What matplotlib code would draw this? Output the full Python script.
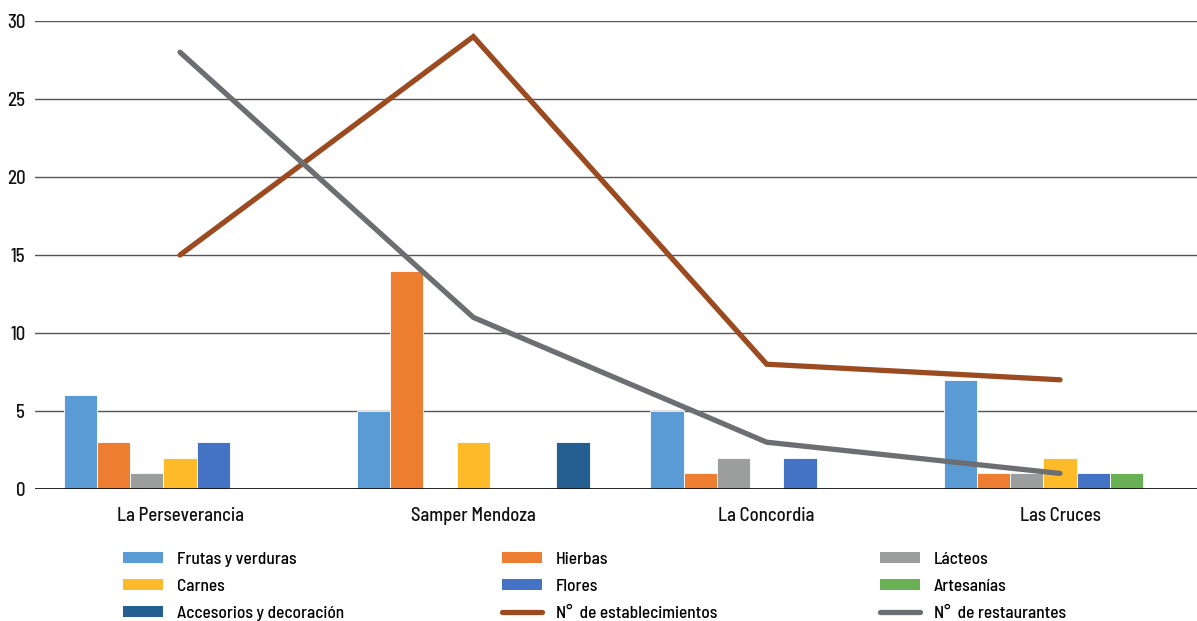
import matplotlib
matplotlib.use("Agg")
import matplotlib.pyplot as plt
from matplotlib.patches import Patch
from matplotlib.lines import Line2D
import numpy as np

plt.rcParams['font.family'] = ['Barlow Semi Condensed', 'Roboto Condensed',
                               'Fira Sans Condensed', 'DejaVu Sans']
plt.rcParams['font.weight'] = 500

mercados = ["La Perseverancia", "Samper Mendoza", "La Concordia", "Las Cruces"]

frutas_verduras = [6, 5, 5, 7]
hierbas = [3, 14, 1, 1]
lacteos = [1, 0, 2, 1]
carnes = [2, 3, 0, 2]
flores = [3, 0, 2, 1]
artesanias = [0, 0, 0, 1]
accesorios = [0, 3, 0, 0]

establecimientos = [15, 29, 8, 7]
restaurantes = [28, 11, 3, 1]

series = [
    ("Frutas y verduras", frutas_verduras, "#5B9BD5"),
    ("Hierbas", hierbas, "#ED7D31"),
    ("Lácteos", lacteos, "#9C9E9E"),
    ("Carnes", carnes, "#FDBB2A"),
    ("Flores", flores, "#4472C4"),
    ("Artesanías", artesanias, "#6AB155"),
    ("Accesorios y decoración", accesorios, "#255E91"),
]

fig = plt.figure(figsize=(11.97, 6.21), dpi=100)
ax = fig.add_axes([35 / 1197, 1 - 489 / 621, 1 - 35 / 1197, 468 / 621])

x = np.arange(len(mercados))
width = 0.1133
handles = {}
for i, (name, vals, color) in enumerate(series):
    ax.bar(x + (i - 3) * width, vals, width, color=color,
           edgecolor="#ffffff", linewidth=0.6, zorder=2)
    handles[name] = Patch(facecolor=color, edgecolor="none")

est_color = "#9C4A20"
rest_color = "#6D6E71"
ax.plot(x, establecimientos, color=est_color, lw=3.8,
        solid_capstyle="round", solid_joinstyle="miter", zorder=4)
ax.plot(x, restaurantes, color=rest_color, lw=3.8,
        solid_capstyle="round", solid_joinstyle="miter", zorder=4)
handles["N°  de establecimientos"] = Line2D([], [], color=est_color, lw=3.8,
                                            solid_capstyle="round")
handles["N°  de restaurantes"] = Line2D([], [], color=rest_color, lw=3.8,
                                        solid_capstyle="round")

ax.set_ylim(0, 30)
ax.set_xlim(-(180 - 35) / 293.3, 3 + (1197 - 1060) / 293.3)
ax.set_yticks(range(0, 31, 5))
for y in range(5, 31, 5):
    ax.axhline(y, color="#555555", lw=1.0, zorder=1)
ax.axhline(0, color="#111111", lw=2.0, zorder=3)
for s in ax.spines.values():
    s.set_visible(False)
ax.set_xticks(x)
ax.set_xticklabels(mercados)
ax.tick_params(axis="both", length=0, labelsize=13.5, colors="#111111")
ax.tick_params(axis="x", pad=13)
ax.tick_params(axis="y", pad=7)

columnas = [
    ["Frutas y verduras", "Carnes", "Accesorios y decoración"],
    ["Hierbas", "Flores", "N°  de establecimientos"],
    ["Lácteos", "Artesanías", "N°  de restaurantes"],
]
col_x = [123, 502, 880]
for cx, nombres in zip(col_x, columnas):
    fig.legend([handles[n] for n in nombres], nombres,
               loc="upper left",
               bbox_to_anchor=(cx / 1197, 1 - 552 / 621),
               frameon=False, fontsize=12.5, borderpad=0,
               borderaxespad=0, handlelength=2.3, handleheight=0.6,
               handletextpad=0.8, labelspacing=0.68)

fig.savefig("out.png", dpi=100)
